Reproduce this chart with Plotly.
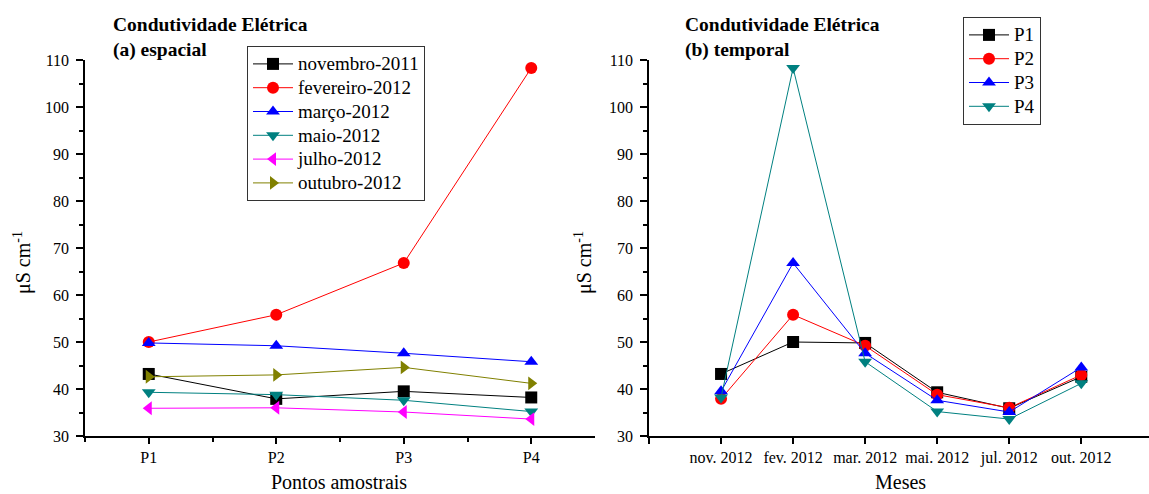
import plotly.graph_objects as go

# Electrical conductivity (µS cm-1) per sampling campaign at points P1..P4
points = ["P1", "P2", "P3", "P4"]
campaigns = ["novembro-2011", "fevereiro-2012", "março-2012",
             "maio-2012", "julho-2012", "outubro-2012"]
month_labels = ["nov. 2012", "fev. 2012", "mar. 2012",
                "mai. 2012", "jul. 2012", "out. 2012"]

nov_2011 = [43.2, 37.9, 39.5, 38.2]
fev_2012 = [50.0, 55.8, 66.8, 108.3]
mar_2012 = [49.8, 49.2, 47.6, 45.8]
mai_2012 = [39.3, 38.8, 37.6, 35.2]
jul_2012 = [35.9, 36.0, 35.1, 33.6]
out_2012 = [42.6, 43.0, 44.6, 41.2]

campaign_values = [nov_2011, fev_2012, mar_2012, mai_2012, jul_2012, out_2012]
campaign_colors = ["#000000", "#ff0000", "#0000ff", "#008080", "#ff00ff", "#808000"]
campaign_symbols = ["square", "circle", "triangle-up", "triangle-down",
                    "triangle-left", "triangle-right"]

point_colors = ["#000000", "#ff0000", "#0000ff", "#008080"]
point_symbols = ["square", "circle", "triangle-up", "triangle-down"]

W, H = 1149, 494
FONT = "Liberation Serif"


def px(x):
    return x / W


def py(y):
    return 1 - y / H


def legend_label(text):
    # row spacing follows the legend font size; the label itself is drawn larger
    return f'<span style="font-size:19px">{text}</span>'


fig = go.Figure()

# (a) spatial: one line per campaign across the sampling points
for name, vals, col, sym in zip(campaigns, campaign_values, campaign_colors, campaign_symbols):
    fig.add_trace(go.Scatter(
        x=[1, 2, 3, 4], y=vals, name=legend_label(name), mode="lines+markers",
        line=dict(color=col, width=1),
        marker=dict(symbol=sym, color=col, size=12),
        xaxis="x", yaxis="y", legend="legend",
    ))

# (b) temporal: one line per sampling point across the campaigns
for i, (name, col, sym) in enumerate(zip(points, point_colors, point_symbols)):
    vals = [c[i] for c in campaign_values]
    fig.add_trace(go.Scatter(
        x=[1, 2, 3, 4, 5, 6], y=vals, name=legend_label(name), mode="lines+markers",
        line=dict(color=col, width=1),
        marker=dict(symbol=sym, color=col, size=12),
        xaxis="x2", yaxis="y2", legend="legend2",
    ))

tickfont = dict(family=FONT, size=16, color="#000")
ydom = [py(436), py(60)]

common_y = dict(
    range=[30, 110], tickvals=list(range(30, 111, 10)), showline=True,
    linecolor="#000", linewidth=1.5, ticks="outside", ticklen=7, tickwidth=1.5,
    tickcolor="#000", showgrid=False, zeroline=False, tickfont=tickfont,
    automargin=False, ticklabelstandoff=4,
    minor=dict(ticks="outside", ticklen=4, tickwidth=1.5, tickcolor="#000",
               dtick=5, showgrid=False),
    domain=ydom,
)

common_x = dict(
    showline=True, linecolor="#000", linewidth=1.5, ticks="outside", ticklen=6,
    tickwidth=1.5, tickcolor="#000", showgrid=False, zeroline=False,
    tickfont=tickfont, automargin=False,
)

legend_style = dict(
    xanchor="left", yanchor="top", bordercolor="#333", borderwidth=1,
    bgcolor="white", font=dict(family=FONT, size=16, color="#000"),
    tracegroupgap=0, itemwidth=40,
)

fig.update_layout(
    width=W, height=H, margin=dict(l=0, r=0, t=0, b=0, autoexpand=False),
    plot_bgcolor="white", paper_bgcolor="white",
    font=dict(family=FONT, color="#000"),
    showlegend=True,
    xaxis=dict(
        domain=[px(85), px(595)], range=[0.5, 4.5],
        tickvals=[1, 2, 3, 4], ticktext=points, anchor="y",
        minor=dict(ticks="outside", ticklen=4, tickwidth=1.5, tickcolor="#000",
                   tickvals=[0.5, 1.5, 2.5, 3.5], showgrid=False),
        **common_x,
    ),
    yaxis=dict(anchor="x", **common_y),
    xaxis2=dict(
        domain=[px(649), 1.0], range=[0, 6.94],
        tickvals=[1, 2, 3, 4, 5, 6], ticktext=month_labels, anchor="y2",
        minor=dict(ticks="outside", ticklen=6, tickwidth=1.5, tickcolor="#000",
                   tickvals=[0], showgrid=False),
        **common_x,
    ),
    yaxis2=dict(anchor="x2", **common_y),
    legend=dict(x=px(247), y=py(46), **legend_style),
    legend2=dict(x=px(963), y=py(17), **legend_style),
)

titlefont = dict(family=FONT, size=19.5, color="#000")
labelfont = dict(family=FONT, size=20, color="#000")

annotations = [
    dict(text="<b>Condutividade Elétrica</b>", x=px(112), y=py(24), xanchor="left",
         yanchor="middle", font=titlefont),
    dict(text="<b>(a) espacial</b>", x=px(112), y=py(50), xanchor="left",
         yanchor="middle", font=titlefont),
    dict(text="<b>Condutividade Elétrica</b>", x=px(684), y=py(24), xanchor="left",
         yanchor="middle", font=titlefont),
    dict(text="<b>(b) temporal</b>", x=px(684), y=py(50), xanchor="left",
         yanchor="middle", font=titlefont),
    dict(text="Pontos amostrais", x=px(339), y=0, xanchor="center",
         yanchor="bottom", font=labelfont),
    dict(text="Meses", x=px(900), y=0, xanchor="center",
         yanchor="bottom", font=labelfont),
]
for xc in (22, 583):
    annotations.append(dict(text="μS cm<sup>-1</sup>", x=px(xc), y=py(263),
                            xanchor="center", yanchor="middle", textangle=-90,
                            font=labelfont))

for a in annotations:
    fig.add_annotation(xref="paper", yref="paper", showarrow=False, borderpad=0, **a)

fig.write_html("out.html")
